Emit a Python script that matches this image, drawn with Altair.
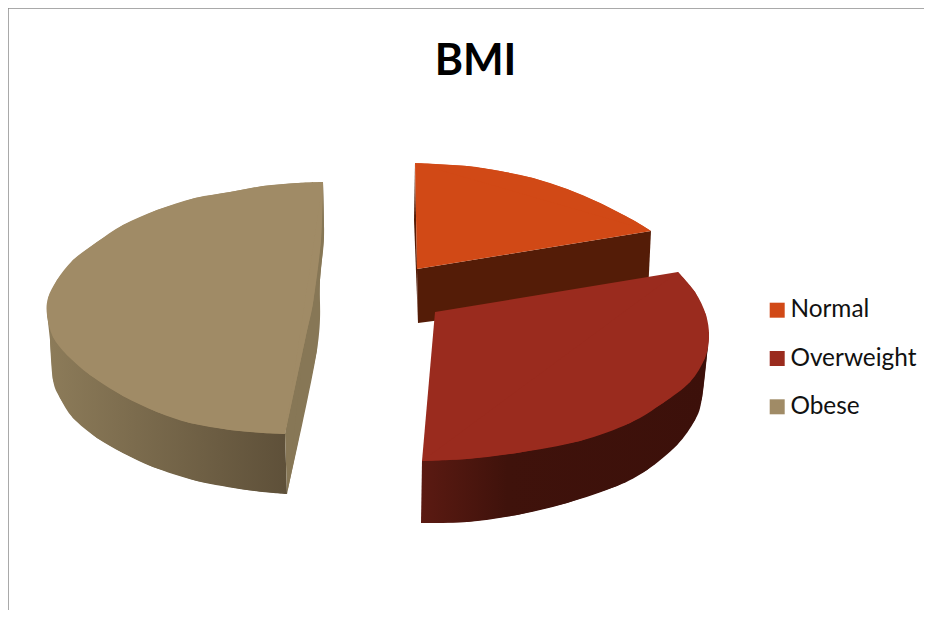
import altair as alt
import pandas as pd

CATEGORIES = ["Normal", "Overweight", "Obese"]
COLORS = ["#D14916", "#9A2B1E", "#A08B66"]
NORMAL_WALL = "#541c07"
OBESE_FACE = "#877756"
OBESE_WALL = [(0, "#8c7b59"), (1, "#5e5039")]
OVER_WALL = [(0, "#5b1a12"), (0.3, "#3f120b"), (1, "#3c100a")]

# Outlines, in picture pixels
normal_arc = [(415, 163), (467, 166), (500, 171), (533, 178), (567, 189), (600, 203), (633, 220), (651, 231)]
normal_apex = [(417, 269)]
normal_wall = [(417, 269), (651, 231), (648, 293), (418, 323)]
normal_side = [(415, 163), (417, 269), (418, 323), (414, 220)]

over_arc = [(678, 272), (695, 292), (706, 315), (709, 337), (705, 358), (690, 382), (663, 403), (630, 423), (580, 441), (517, 453), (467, 459), (422, 461)]
over_inner = [(435, 312)]
over_base = [(421, 523), (467, 522), (517, 515), (567, 503), (617, 486), (647, 470), (677, 445), (695, 420), (702, 398), (708, 345)]
over_upper = [(709, 332), (422, 461)]

obese_arc = [(323, 182), (297, 183), (263, 186), (230, 192), (195, 198), (157, 210), (123, 225), (97, 242), (73, 260), (57, 280), (48, 298), (47, 315), (53, 337), (67, 355), (90, 375), (123, 396), (157, 412), (190, 423), (230, 430), (263, 433), (285, 434)]
obese_inner = [(285, 434), (305, 340), (313, 303), (321, 240), (323, 182)]
obese_base = [(287, 494), (247, 490), (197, 481), (153, 467), (123, 453), (97, 438), (73, 418), (60, 398), (53, 380), (50, 340)]
obese_upper = [(47, 313), (285, 434)]
obese_face_edge = [(323, 182), (324, 237), (320, 280), (317, 350), (287, 494)]
obese_face_inner = [(285, 434), (305, 340), (313, 303), (321, 240)]

frame_left = [(8, 8), (8, 610)]
frame_top = [(8, 8), (924, 8)]

X = alt.Scale(domain=[8, 924], range=[0, 916])
Y = alt.Scale(domain=[610, 8], range=[602, 0])


def table(points, category=None):
    return pd.DataFrame({
        "px": [p[0] for p in points],
        "py": [p[1] for p in points],
        "i": list(range(len(points))),
        "category": category,
    })


def enc(chart):
    return chart.encode(
        x=alt.X("px:Q", scale=X, axis=None),
        y=alt.Y("py:Q", scale=Y, axis=None),
        order="i:Q",
    )


def gradient(stops):
    return alt.LinearGradient(gradient="linear", x1=0, x2=1, y1=0, y2=0,
                              stops=[alt.GradientStop(offset=o, color=c) for o, c in stops])


def poly(points, fill):
    return enc(alt.Chart(table(points)).mark_line(fill=fill, strokeWidth=0, interpolate="linear-closed"))


def curve(points, fill):
    # an open smooth line whose fill closes along its chord
    return enc(alt.Chart(table(points)).mark_line(fill=fill, strokeWidth=0, interpolate="cardinal"))


def top(points, category):
    scale = alt.Scale(domain=CATEGORIES, range=COLORS)
    return enc(alt.Chart(table(points, category)).mark_line(strokeWidth=0, interpolate="linear-closed")).encode(
        fill=alt.Fill("category:N", scale=scale,
                      legend=alt.Legend(title=None, orient="none", legendX=757, legendY=290, symbolType="square",
                                        symbolSize=225, symbolStrokeWidth=0, labelFont="Lato", labelFontSize=24.4,
                                        labelColor="#111111", rowPadding=23.3, labelOffset=1)),
    )


frame = [enc(alt.Chart(table(p)).mark_line(stroke="#8c8c8c", strokeWidth=1.5, clip=False)) for p in (frame_left, frame_top)]

chart = alt.layer(
    *frame,
    poly(obese_base + obese_upper, gradient(OBESE_WALL)),
    curve(obese_base, gradient(OBESE_WALL)),
    poly(obese_face_edge + obese_face_inner[:1], OBESE_FACE),
    curve(obese_face_edge, OBESE_FACE),
    top(obese_arc + obese_inner, "Obese"),
    curve(obese_arc, COLORS[2]),
    curve(obese_inner, COLORS[2]),
    poly(normal_side, NORMAL_WALL),
    poly(normal_wall, NORMAL_WALL),
    top(normal_arc + normal_apex, "Normal"),
    curve(normal_arc, COLORS[0]),
    poly(over_base + over_upper, gradient(OVER_WALL)),
    curve(over_base, gradient(OVER_WALL)),
    top(over_arc + over_inner, "Overweight"),
    curve(over_arc, COLORS[1]),
).properties(
    width=916, height=602, padding=0, autosize=alt.AutoSizeParams(type="none"),
    title=alt.TitleParams("BMI", font="Lato", fontSize=43, fontWeight="bold", color="#000000",
                          anchor="middle", frame="group", dx=9.5, dy=83),
).configure_view(stroke=None)

chart.save("out.html", embed_options={"renderer": "svg", "actions": False})
